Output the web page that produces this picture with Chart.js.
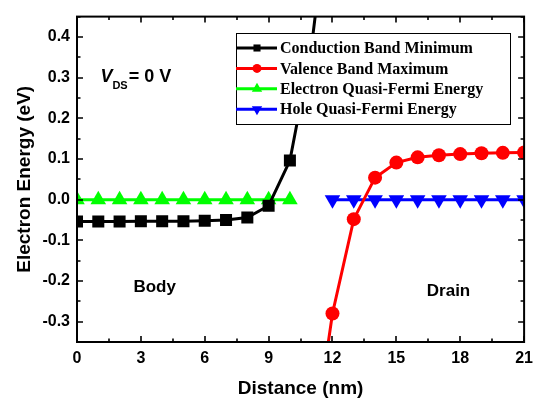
<!DOCTYPE html>
<html>
<head>
<meta charset="utf-8">
<script src="https://cdn.jsdelivr.net/npm/chart.js@4.4.1/dist/chart.umd.min.js"></script>
<style>
  html, body { margin: 0; padding: 0; background: #fff; }
  #wrap { width: 540px; height: 404px; }
</style>
</head>
<body>
<div id="wrap"><canvas id="chart" width="540" height="404"></canvas></div>
<script>
// distances in nm
const cbmX = [0, 1, 2, 3, 4, 5, 6, 7, 8, 9, 10, 11, 12];
const cbmY = [-0.054, -0.054, -0.054, -0.053, -0.053, -0.053, -0.052, -0.050, -0.044, -0.015, 0.096, 0.37, 0.80];

const vbmX = [11, 12, 13, 14, 15, 16, 17, 18, 19, 20, 21];
const vbmY = [-0.64, -0.28, -0.048, 0.054, 0.091, 0.104, 0.109, 0.112, 0.114, 0.115, 0.116];

const efnX = [0, 1, 2, 3, 4, 5, 6, 7, 8, 9, 10];
const efnY = [0, 0, 0, 0, 0, 0, 0, 0, 0, 0, 0];

const efpX = [12, 13, 14, 15, 16, 17, 18, 19, 20, 21];
const efpY = [0, 0, 0, 0, 0, 0, 0, 0, 0, 0];

const xTicks = [0, 3, 6, 9, 12, 15, 18, 21];
const yTicks = [-0.3, -0.2, -0.1, 0.0, 0.1, 0.2, 0.3, 0.4];

const labels = ['Conduction Band Minimum', 'Valence Band Maximum', 'Electron Quasi-Fermi Energy', 'Hole Quasi-Fermi Energy'];

const pts = (xs, ys) => xs.map((x, i) => ({ x: x, y: ys[i] }));

const mk = (label, data, color, style, rot, r, lr) => ({
  label: label,
  data: data,
  borderColor: color,
  backgroundColor: color,
  borderWidth: 3,
  pointStyle: style,
  rotation: rot,
  pointRadius: r,
  legendRadius: lr,
  pointBorderWidth: 0,
  pointHoverRadius: r,
  tension: 0,
  fill: false
});

// inward ticks on all four sides + the frame
const frame = {
  id: 'frame',
  afterDatasetsDraw(chart) {
    const ctx = chart.ctx, a = chart.chartArea;
    const sx = chart.scales.x, sy = chart.scales.y;
    ctx.save();
    ctx.strokeStyle = '#000';
    ctx.lineWidth = 2;
    ctx.strokeRect(a.left, a.top, a.right - a.left, a.bottom - a.top);
    ctx.lineWidth = 1.6;
    ctx.beginPath();
    for (let v = 0; v <= 21.001; v += 1.5) {
      const p = Math.round(sx.getPixelForValue(v));
      const len = (Math.abs(v / 3 - Math.round(v / 3)) < 0.01) ? 6 : 3.5;
      ctx.moveTo(p, a.bottom); ctx.lineTo(p, a.bottom - len);
      ctx.moveTo(p, a.top); ctx.lineTo(p, a.top + len);
    }
    for (let k = -7; k <= 9; k++) {
      const v = k * 0.05;
      const p = Math.round(sy.getPixelForValue(v));
      const len = (k % 2 === 0) ? 6 : 3.5;
      ctx.moveTo(a.left, p); ctx.lineTo(a.left + len, p);
      ctx.moveTo(a.right, p); ctx.lineTo(a.right - len, p);
    }
    ctx.stroke();
    ctx.restore();
  },
  afterDraw(chart) {
    const ctx = chart.ctx;
    const sx = chart.scales.x, sy = chart.scales.y;
    ctx.save();
    ctx.fillStyle = '#000';
    ctx.textBaseline = 'middle';
    ctx.textAlign = 'center';
    ctx.font = 'bold 17px "Liberation Sans", Arial, sans-serif';
    ctx.fillText('Body', sx.getPixelForValue(3.65), sy.getPixelForValue(-0.215));
    ctx.fillText('Drain', sx.getPixelForValue(17.45), sy.getPixelForValue(-0.225));

    // V_DS = 0 V
    let x = sx.getPixelForValue(1.1), y = sy.getPixelForValue(0.29);
    ctx.textAlign = 'left';
    ctx.textBaseline = 'alphabetic';
    ctx.font = 'italic bold 18px "Liberation Sans", Arial, sans-serif';
    ctx.fillText('V', x, y);
    x += ctx.measureText('V').width;
    ctx.font = 'bold 11px "Liberation Sans", Arial, sans-serif';
    ctx.fillText('DS', x, y + 7);
    x += ctx.measureText('DS').width + 1;
    ctx.font = 'bold 18px "Liberation Sans", Arial, sans-serif';
    ctx.fillText('= 0 V', x, y);

    // legend box
    const bx = 236, by = 33, bw = 274, bh = 91;
    ctx.fillStyle = '#fff';
    ctx.fillRect(bx, by, bw, bh);
    ctx.strokeStyle = '#000';
    ctx.lineWidth = 1;
    ctx.strokeRect(bx + 0.5, by + 0.5, bw, bh);
    chart.data.datasets.forEach((ds, i) => {
      const ry = 48 + i * 20.4;
      ctx.strokeStyle = ds.borderColor;
      ctx.lineWidth = 3;
      ctx.beginPath();
      ctx.moveTo(bx, ry); ctx.lineTo(bx + 41, ry);
      ctx.stroke();
      ctx.fillStyle = ds.borderColor;
      Chart.helpers.drawPoint(ctx, { pointStyle: ds.pointStyle, rotation: ds.rotation, radius: ds.legendRadius, borderWidth: 0 }, bx + 21, ry);
      ctx.fillStyle = '#000';
      ctx.font = 'bold 16px "Liberation Serif", "Times New Roman", serif';
      ctx.textBaseline = 'middle';
      ctx.fillText(ds.label, bx + 44, ry + 1);
    });
    ctx.restore();
  }
};

new Chart(document.getElementById('chart'), {
  type: 'line',
  data: {
    datasets: [
      mk(labels[0], pts(cbmX, cbmY), '#000000', 'rect', 0, 8.5, 5),
      mk(labels[1], pts(vbmX, vbmY), '#ff0000', 'circle', 0, 7, 4.5),
      mk(labels[2], pts(efnX, efnY), '#00ff00', 'triangle', 0, 9, 6),
      mk(labels[3], pts(efpX, efpY), '#0000ff', 'triangle', 180, 9, 6)
    ]
  },
  options: {
    responsive: false,
    animation: false,
    events: [],
    layout: { padding: { top: 10, right: 14, left: 9, bottom: 0 } },
    plugins: { legend: { display: false }, tooltip: { enabled: false } },
    scales: {
      x: {
        type: 'linear',
        min: 0, max: 21,
        afterBuildTicks: s => { s.ticks = xTicks.map(v => ({ value: v })); },
        afterFit: s => { s.height = 62; },
        grid: { display: false, drawTicks: false },
        border: { display: false },
        ticks: { color: '#000', padding: 7, maxRotation: 0, font: { family: '"Liberation Sans", Arial, sans-serif', size: 16, weight: 'bold' } },
        title: { display: true, text: 'Distance (nm)', color: '#000', padding: { top: 8 }, font: { family: '"Liberation Sans", Arial, sans-serif', size: 19, weight: 'bold' } }
      },
      y: {
        type: 'linear',
        min: -0.35, max: 0.45,
        afterBuildTicks: s => { s.ticks = yTicks.map(v => ({ value: v })); },
        afterFit: s => { s.width = 68; },
        grid: { display: false, drawTicks: false },
        border: { display: false },
        ticks: { color: '#000', padding: 7, callback: v => v.toFixed(1), font: { family: '"Liberation Sans", Arial, sans-serif', size: 16, weight: 'bold' } },
        title: { display: true, text: 'Electron Energy (eV)', color: '#000', font: { family: '"Liberation Sans", Arial, sans-serif', size: 19, weight: 'bold' } }
      }
    }
  },
  plugins: [frame]
});
</script>
</body>
</html>
